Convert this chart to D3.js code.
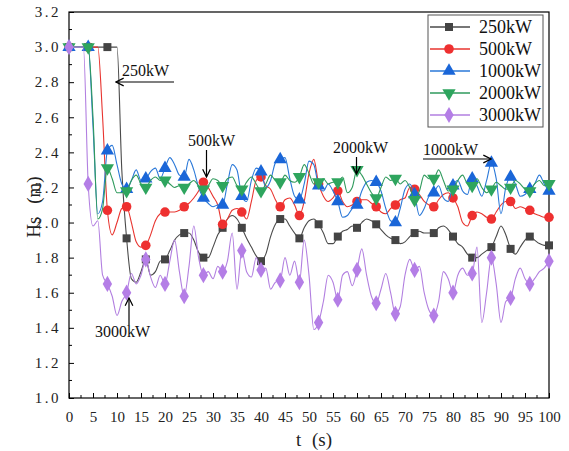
<!DOCTYPE html>
<html><head><meta charset="utf-8">
<script src="https://cdn.jsdelivr.net/npm/d3@7"></script>
<style>body{margin:0;background:#fff}svg{display:block}</style>
</head><body><svg id="c" width="569" height="451"></svg>
<script>
const times = d3.range(0, 101);
const xTicks = [0,5,10,15,20,25,30,35,40,45,50,55,60,65,70,75,80,85,90,95,100];
const yTicks = [1.0,1.2,1.4,1.6,1.8,2.0,2.2,2.4,2.6,2.8,3.0,3.2];
const seriesNames = ["250kW","500kW","1000kW","2000kW","3000kW"];
const s250 = [3,3,3,3,3,3,3,3,3,3,3,2.3,1.91,1.68,1.66,1.72,1.79,1.70,1.72,1.78,1.79,1.84,1.90,1.93,1.94,1.94,1.90,1.83,1.80,1.80,1.86,1.93,1.97,2.02,2.04,2.02,1.97,1.91,1.86,1.81,1.78,1.82,1.92,1.99,2.02,2.02,1.98,1.94,1.91,1.97,2.01,2.02,1.99,1.94,1.88,1.88,1.92,1.95,1.96,1.98,1.97,2.00,2.02,2.01,1.99,1.96,1.93,1.91,1.90,1.88,1.89,1.92,1.94,1.95,1.94,1.94,1.94,1.97,1.98,1.96,1.92,1.88,1.86,1.82,1.80,1.80,1.82,1.84,1.86,1.92,1.98,1.93,1.85,1.82,1.86,1.90,1.92,1.90,1.88,1.87,1.87];
const s500 = [3,3,3,3,3,3,3,2.6,2.07,1.93,2.00,2.08,2.09,2.00,1.89,1.86,1.87,1.93,2.01,2.05,2.06,2.06,2.06,2.07,2.09,2.11,2.14,2.18,2.23,2.20,2.15,2.10,1.99,2.02,2.07,2.08,2.06,2.02,2.12,2.24,2.26,2.21,2.19,2.13,2.09,2.13,2.14,2.10,2.04,2.12,2.28,2.36,2.22,2.15,2.12,2.14,2.18,2.12,2.09,2.10,2.12,2.13,2.13,2.11,2.09,2.06,2.05,2.08,2.10,2.13,2.14,2.20,2.19,2.16,2.12,2.10,2.09,2.13,2.16,2.17,2.14,2.09,2.00,1.98,2.04,2.06,2.05,2.03,2.02,2.06,2.10,2.12,2.12,2.08,2.09,2.08,2.07,2.05,2.04,2.03,2.03];
const s1000 = [3,3,3,3,3,2.55,2.05,2.12,2.41,2.44,2.33,2.22,2.19,2.24,2.30,2.24,2.25,2.29,2.31,2.25,2.31,2.37,2.33,2.27,2.26,2.36,2.30,2.20,2.14,2.11,2.09,2.10,2.10,2.22,2.33,2.30,2.15,2.12,2.24,2.31,2.29,2.20,2.24,2.34,2.36,2.37,2.25,2.15,2.13,2.22,2.35,2.33,2.21,2.18,2.22,2.18,2.12,2.03,2.04,2.08,2.10,2.18,2.23,2.24,2.23,2.18,2.08,2.01,2.00,2.08,2.19,2.22,2.16,2.04,2.08,2.15,2.17,2.21,2.14,2.12,2.21,2.24,2.18,2.16,2.25,2.21,2.15,2.24,2.34,2.25,2.05,2.20,2.26,2.22,2.15,2.16,2.19,2.22,2.27,2.22,2.18];
const s2000 = [3,3,3,3,3,2.6,2.02,2.08,2.31,2.25,2.17,2.17,2.18,2.24,2.27,2.22,2.20,2.24,2.26,2.24,2.24,2.22,2.20,2.21,2.20,2.22,2.24,2.21,2.19,2.21,2.25,2.24,2.21,2.25,2.26,2.21,2.19,2.23,2.26,2.22,2.18,2.22,2.27,2.24,2.23,2.27,2.24,2.23,2.26,2.33,2.28,2.22,2.23,2.25,2.22,2.23,2.23,2.26,2.17,2.20,2.30,2.27,2.22,2.17,2.14,2.20,2.26,2.24,2.25,2.22,2.24,2.20,2.13,2.18,2.27,2.25,2.25,2.30,2.24,2.18,2.19,2.24,2.27,2.22,2.21,2.25,2.20,2.17,2.19,2.23,2.21,2.19,2.20,2.24,2.22,2.19,2.18,2.22,2.24,2.21,2.22];
const s3000 = [3,3,3,3,2.22,1.98,2.01,1.70,1.65,1.58,1.47,1.55,1.60,1.71,1.65,1.70,1.79,1.69,1.63,1.70,1.65,1.78,1.90,1.72,1.58,1.75,1.98,1.80,1.70,1.72,1.68,1.75,1.72,1.78,1.94,1.62,1.84,1.72,1.69,1.80,1.73,1.74,1.62,1.66,1.67,1.80,1.70,1.78,1.66,1.90,1.70,1.39,1.43,1.55,1.70,1.66,1.56,1.70,1.72,1.64,1.73,1.85,1.70,1.58,1.54,1.62,1.71,1.60,1.48,1.52,1.70,1.79,1.73,1.75,1.60,1.50,1.47,1.55,1.72,1.68,1.60,1.70,1.74,1.70,1.71,1.86,1.43,1.60,1.80,1.65,1.43,1.55,1.57,1.68,1.74,1.68,1.65,1.68,1.72,1.74,1.78];
const seriesValues = [s250, s500, s1000, s2000, s3000];
const lineColors = ["#4a4a4a","#e8342f","#2a78d8","#2f9a5c","#b27fe0"];
const markColors = ["#444444","#ee3030","#1a66d8","#2ea55e","#b47ee6"];
const markShapes = [d3.symbolSquare, d3.symbolCircle, d3.symbolTriangle, d3.symbolTriangle, d3.symbolDiamond];
const markSizes = [64, 72, 76, 76, 76];
const markRot = [0,0,0,180,0];
const FONT = "'Liberation Serif','Times New Roman','DejaVu Serif',serif";

const svg = d3.select("#c");
const L=69,R=549,T=12,B=398;
const x = d3.scaleLinear().domain([0,100]).range([L,R]);
const y = d3.scaleLinear().domain([1.0,3.2]).range([B,T]);

svg.append("rect").attr("x",L).attr("y",T).attr("width",R-L).attr("height",B-T)
  .attr("fill","none").attr("stroke","#000").attr("stroke-width",1.2);

const xa = svg.append("g").attr("transform",`translate(0,${B})`)
  .call(d3.axisBottom(x).tickValues(xTicks).tickSizeInner(-5).tickSizeOuter(0).tickPadding(10).tickFormat(d3.format("d")));
xa.select(".domain").remove();
xa.selectAll("text").attr("font-size",15).attr("fill","#222").attr("dy","0.9em");
xa.selectAll("line").attr("stroke","#000");
const xMinor = xTicks.slice(0,-1).map(v=>v+2.5);
svg.append("g").selectAll("line").data(xMinor).join("line")
  .attr("x1",d=>x(d)).attr("x2",d=>x(d)).attr("y1",B).attr("y2",B-3).attr("stroke","#000");

const ya = svg.append("g").attr("transform",`translate(${L},0)`)
  .call(d3.axisLeft(y).tickValues(yTicks).tickSizeInner(-5).tickSizeOuter(0).tickPadding(8).tickFormat(d3.format(".1f")));
ya.select(".domain").remove();
ya.selectAll("text").attr("font-size",15).attr("fill","#222").attr("letter-spacing","2.5px");
ya.selectAll("line").attr("stroke","#000");
const yMinor = yTicks.slice(0,-1).map(v=>v+0.1);
svg.append("g").selectAll("line").data(yMinor).join("line")
  .attr("x1",L).attr("x2",L+3).attr("y1",d=>y(d)).attr("y2",d=>y(d)).attr("stroke","#000");

svg.append("text").attr("x",314).attr("y",446).attr("text-anchor","middle").attr("font-size",19).attr("fill","#222").attr("word-spacing","6px").text("t (s)");
svg.append("text").attr("transform","translate(40,207) rotate(-90)").attr("text-anchor","middle").attr("font-size",19).attr("fill","#222").attr("word-spacing","8px").text("Hs (m)");

const line = d3.line().x((d,i)=>x(times[i])).y(d=>y(d)).curve(d3.curveMonotoneX);
seriesValues.forEach((vals,k)=>{
  const g = svg.append("g");
  g.append("path").attr("d",line(vals)).attr("fill","none").attr("stroke",lineColors[k]).attr("stroke-width",1.1);
  const pts = vals.map((v,i)=>({t:times[i],v})).filter(p=>p.t%4===0);
  g.selectAll("path.m").data(pts).join("path").attr("class","m")
    .attr("d",d3.symbol().type(markShapes[k]).size(markSizes[k]))
    .attr("transform",p=>`translate(${x(p.t)},${y(p.v)}) rotate(${markRot[k]})`)
    .attr("fill",markColors[k]);
});

const lg = svg.append("g");
lg.append("rect").attr("x",428).attr("y",15).attr("width",115).attr("height",112).attr("fill","#fff").attr("stroke","#555").attr("stroke-width",1);
seriesNames.forEach((n,k)=>{
  const yy = 27 + k*22;
  lg.append("line").attr("x1",430).attr("x2",470).attr("y1",yy).attr("y2",yy).attr("stroke",lineColors[k]).attr("stroke-width",1.3);
  lg.append("path").attr("d",d3.symbol().type(markShapes[k]).size(markSizes[k])).attr("transform",`translate(449,${yy}) rotate(${markRot[k]})`).attr("fill",markColors[k]);
  lg.append("text").attr("x",479).attr("y",yy+6).attr("font-size",18).attr("fill","#111").text(n);
});

const defs = svg.append("defs");
defs.append("marker").attr("id","ah").attr("viewBox","0 0 10 10").attr("refX",9).attr("refY",5)
  .attr("markerWidth",8).attr("markerHeight",8).attr("orient","auto")
  .append("path").attr("d","M1,1 L9,5 L1,9").attr("fill","none").attr("stroke","#000").attr("stroke-width",1.3);
function arrow(x1,y1,x2,y2){ svg.append("line").attr("x1",x1).attr("y1",y1).attr("x2",x2).attr("y2",y2).attr("stroke","#000").attr("stroke-width",1.2).attr("marker-end","url(#ah)"); }
function label(tx,ty,s){ svg.append("text").attr("x",tx).attr("y",ty).attr("font-size",16).attr("fill","#111").text(s); }
label(122,76,"250kW"); arrow(174,82,116,82);
label(188,146,"500kW"); arrow(206.5,150,206.5,177);
label(333,153,"2000kW"); arrow(356.5,157,356.5,174);
label(423,155,"1000kW"); arrow(423,159,491,159);
label(95,337,"3000kW"); arrow(129,325,129,298);

svg.selectAll("g").attr("font-family",null);
svg.selectAll("text").attr("font-family",FONT);
</script></body></html>
